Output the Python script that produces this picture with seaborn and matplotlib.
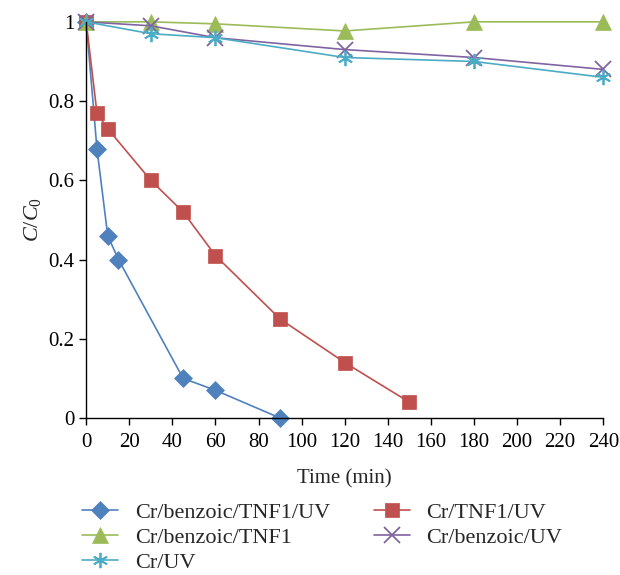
import matplotlib
matplotlib.use("Agg")
import matplotlib.pyplot as plt
import seaborn as sns
import pandas as pd
from matplotlib.lines import Line2D

# Data
names = ["Cr/benzoic/TNF1/UV", "Cr/TNF1/UV", "Cr/benzoic/TNF1", "Cr/benzoic/UV", "Cr/UV"]
t_blue = [0, 5, 10, 15, 45, 60, 90]
c_blue = [1.0, 0.68, 0.46, 0.40, 0.10, 0.07, 0.0]
t_red = [0, 5, 10, 30, 45, 60, 90, 120, 150]
c_red = [1.0, 0.77, 0.73, 0.60, 0.52, 0.41, 0.25, 0.14, 0.04]
t_long = [0, 30, 60, 120, 180, 240]
c_green = [1.0, 1.0, 0.995, 0.977, 1.0, 1.0]
c_purple = [1.0, 0.99, 0.96, 0.93, 0.91, 0.88]
c_cyan = [1.0, 0.97, 0.96, 0.91, 0.90, 0.86]
x_ticks = [0, 20, 40, 60, 80, 100, 120, 140, 160, 180, 200, 220, 240]
y_ticks = [0, 0.2, 0.4, 0.6, 0.8, 1.0]
y_tick_labels = ["0", "0.2", "0.4", "0.6", "0.8", "1"]

series = [(names[0], t_blue, c_blue), (names[1], t_red, c_red),
          (names[2], t_long, c_green), (names[3], t_long, c_purple),
          (names[4], t_long, c_cyan)]
df = pd.concat([pd.DataFrame({"series": n, "t": t, "c": c}) for n, t, c in series],
               ignore_index=True)

colors = {names[0]: "#4F81BD", names[1]: "#C0504D", names[2]: "#9BBB59",
          names[3]: "#8064A2", names[4]: "#4BACC6"}
markers = {names[0]: "D", names[1]: "s", names[2]: "^", names[3]: "x", names[4]: "*"}
msizes = {names[0]: 9, names[1]: 10.5, names[2]: 11, names[3]: 11, names[4]: 11}

sns.set_theme(style="white")
plt.rcParams["font.family"] = ["Liberation Serif", "DejaVu Serif"]
plt.rcParams["mathtext.fontset"] = "custom"
plt.rcParams["mathtext.it"] = "Liberation Serif:italic"
plt.rcParams["mathtext.rm"] = "Liberation Serif"

fig = plt.figure(figsize=(6.2, 5.75), dpi=100)
ax = fig.add_axes([0.139, 0.273, 0.834, 0.689])

handles = {}
for n in names:
    sub = df[df["series"] == n]
    m = markers[n]
    if m == "*":
        mk = (6, 2, 0)
        mew = 1.3
    elif m == "x":
        mk = "x"
        mew = 1.3
    else:
        mk = m
        mew = 0.5
    sns.lineplot(data=sub, x="t", y="c", ax=ax, color=colors[n], marker=mk,
                 markersize=msizes[n], markeredgewidth=mew,
                 markeredgecolor=colors[n], linewidth=1.2, sort=False,
                 estimator=None, clip_on=False, legend=False)
    handles[n] = Line2D([], [], color=colors[n], marker=mk, markersize=msizes[n],
                        markeredgewidth=mew, markeredgecolor=colors[n], linewidth=1.2)

ax.set_xlim(0, 240)
ax.set_ylim(0, 1)
ax.set_xticks(x_ticks)
ax.set_xticklabels([str(v) for v in x_ticks])
ax.set_yticks(y_ticks)
ax.set_yticklabels(y_tick_labels)
for s in ["top", "right"]:
    ax.spines[s].set_visible(False)
for s in ["left", "bottom"]:
    ax.spines[s].set_color("black")
    ax.spines[s].set_linewidth(1.0)
ax.tick_params(axis="both", which="both", direction="out", length=5, width=1,
               colors="black", labelsize=15, left=True, bottom=True)
ax.tick_params(axis="x", pad=6)
ax.set_xlabel("Time (min)", fontsize=15, labelpad=12)
ax.set_ylabel("$C/C_0$", fontsize=16, labelpad=4)

order = [names[0], names[2], names[4], names[1], names[3]]
leg = fig.legend([handles[n] for n in order], order, ncol=2, loc="upper left",
                 bbox_to_anchor=(0.133, 0.126), bbox_transform=fig.transFigure,
                 frameon=False, fontsize=16, handlelength=1.6, columnspacing=2.0,
                 labelspacing=0.2, handletextpad=0.75, borderpad=0.0,
                 borderaxespad=0.0)
fig.savefig("out.png", dpi=100)
